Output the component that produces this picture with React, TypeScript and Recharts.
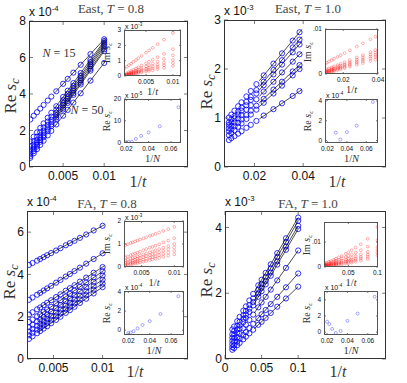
import React from "react";
import { ScatterChart, Scatter, XAxis, YAxis } from "recharts";

const SANS = "'Liberation Sans', Arial, sans-serif";
const SERIF = "'Liberation Serif', 'Times New Roman', serif";

// ---------- East, T = 0.8  (Re s_c in 1e-4, Im s_c in 1e-3, inset Re in 1e-5)
const eastLoInvT = [0.001, 0.00143, 0.00182, 0.00222, 0.00263, 0.00313, 0.00357, 0.00417, 0.005, 0.00556, 0.00625, 0.00714, 0.00833, 0.01];
const eastLoRe = [
  [2.6, 2.81, 3.0, 3.2, 3.4, 3.64, 3.86, 4.15, 4.56, 4.83, 5.17, 5.6, 6.19, 7.0],
  [1.4, 1.66, 1.9, 2.14, 2.39, 2.7, 2.97, 3.33, 3.84, 4.18, 4.6, 5.15, 5.87, 6.9],
  [1.15, 1.42, 1.66, 1.91, 2.17, 2.49, 2.76, 3.14, 3.66, 4.01, 4.45, 5.0, 5.75, 6.8],
  [0.95, 1.22, 1.47, 1.73, 1.99, 2.31, 2.59, 2.98, 3.51, 3.86, 4.31, 4.87, 5.63, 6.7],
  [0.8, 1.08, 1.33, 1.59, 1.85, 2.17, 2.46, 2.84, 3.38, 3.74, 4.18, 4.75, 5.52, 6.6],
  [0.7, 0.97, 1.22, 1.48, 1.74, 2.06, 2.34, 2.72, 3.25, 3.61, 4.05, 4.62, 5.38, 6.45],
  [0.6, 0.87, 1.12, 1.38, 1.64, 1.96, 2.24, 2.62, 3.15, 3.51, 3.95, 4.52, 5.28, 6.35],
  [0.5, 0.75, 0.98, 1.21, 1.44, 1.73, 1.98, 2.33, 2.81, 3.13, 3.53, 4.04, 4.73, 5.7],
];
const eastLoFitX = [0.004, 0.0102];
const eastLoFit = [[4.07, 7.1], [3.23, 7.02], [3.03, 6.93], [2.87, 6.83], [2.73, 6.72], [2.62, 6.58], [2.52, 6.48], [2.23, 5.82]];
const eastLoIm = [
  [0.5, 0.61, 0.71, 0.81, 0.92, 1.04, 1.16, 1.31, 1.52, 1.67, 1.84, 2.07, 2.37, 2.8],
  [0.1, 0.18, 0.25, 0.32, 0.4, 0.49, 0.57, 0.68, 0.83, 0.94, 1.06, 1.23, 1.44, 1.75],
  [0.05, 0.11, 0.17, 0.23, 0.29, 0.36, 0.42, 0.51, 0.63, 0.71, 0.81, 0.94, 1.11, 1.35],
  [0.03, 0.08, 0.12, 0.17, 0.21, 0.27, 0.32, 0.39, 0.48, 0.55, 0.63, 0.73, 0.86, 1.05],
  [0.02, 0.06, 0.1, 0.13, 0.17, 0.22, 0.26, 0.31, 0.39, 0.44, 0.5, 0.59, 0.7, 0.85],
  [0.01, 0.04, 0.07, 0.1, 0.13, 0.16, 0.19, 0.24, 0.29, 0.33, 0.38, 0.45, 0.53, 0.65],
];
const eastLoInvN = [0.02, 0.0222, 0.025, 0.0286, 0.0333, 0.04, 0.05, 0.0667];
const eastLoReN = [0.1, 0.2, 0.2, 1.6, 3.0, 4.6, 7.4, 16.2];

// ---------- East, T = 1.0  (Re s_c in 1e-3, Im s_c in 1e-3, inset Re in 1e-4)
const eastHiInvT = [0.0095, 0.0105, 0.0118, 0.0133, 0.0147, 0.0167, 0.0185, 0.0208, 0.0238, 0.0278, 0.0313, 0.0357, 0.0385];
const eastHiRe = [
  [1.01, 1.07, 1.15, 1.24, 1.32, 1.44, 1.55, 1.69, 1.87, 2.11, 2.32, 2.58, 2.75],
  [0.91, 0.97, 1.04, 1.13, 1.21, 1.33, 1.43, 1.57, 1.74, 1.98, 2.18, 2.44, 2.6],
  [0.86, 0.91, 0.99, 1.07, 1.15, 1.26, 1.37, 1.5, 1.67, 1.89, 2.09, 2.34, 2.5],
  [0.79, 0.84, 0.91, 0.99, 1.06, 1.17, 1.26, 1.38, 1.54, 1.74, 1.93, 2.15, 2.3],
  [0.73, 0.77, 0.83, 0.9, 0.97, 1.06, 1.15, 1.25, 1.39, 1.58, 1.74, 1.95, 2.08],
  [0.65, 0.69, 0.75, 0.82, 0.89, 0.98, 1.07, 1.17, 1.31, 1.5, 1.66, 1.87, 2.0],
  [0.55, 0.59, 0.63, 0.68, 0.73, 0.8, 0.86, 0.94, 1.05, 1.18, 1.3, 1.45, 1.55],
];
const eastHiFitX = [0.022, 0.0395];
const eastHiFit = [[1.76, 2.81], [1.64, 2.66], [1.57, 2.56], [1.44, 2.35], [1.31, 2.13], [1.23, 2.05], [0.98, 1.58]];
const eastHiIm = [
  [2.3, 2.51, 2.78, 3.09, 3.38, 3.79, 4.16, 4.64, 5.26, 6.09, 6.81, 7.72, 8.3],
  [0.9, 1.05, 1.25, 1.48, 1.69, 1.99, 2.27, 2.61, 3.07, 3.68, 4.21, 4.87, 5.3],
  [0.55, 0.69, 0.88, 1.1, 1.3, 1.59, 1.85, 2.19, 2.62, 3.2, 3.71, 4.34, 4.75],
  [0.35, 0.48, 0.66, 0.86, 1.05, 1.32, 1.56, 1.87, 2.27, 2.81, 3.28, 3.87, 4.25],
  [0.2, 0.32, 0.49, 0.67, 0.85, 1.09, 1.32, 1.6, 1.98, 2.47, 2.91, 3.45, 3.8],
  [0.1, 0.21, 0.35, 0.51, 0.66, 0.87, 1.06, 1.31, 1.63, 2.06, 2.43, 2.9, 3.2],
];
const eastHiInvN = [0.0286, 0.0333, 0.04, 0.05, 0.0667];
const eastHiReN = [0.8, 0.1, 0.85, 1.5, 3.9];

// ---------- FA, T = 0.8  (Re s_c in 1e-4, Im s_c in 1e-3, inset Re in 1e-4)
const faLoInvT = [0.0025, 0.00286, 0.00333, 0.00364, 0.004, 0.00435, 0.00476, 0.00526, 0.00571, 0.00625, 0.00667, 0.00714, 0.00769, 0.00833, 0.00909, 0.01];
const faLoRe = [
  [4.45, 4.54, 4.65, 4.73, 4.82, 4.91, 5.01, 5.13, 5.24, 5.38, 5.48, 5.59, 5.73, 5.89, 6.08, 6.3],
  [2.8, 2.91, 3.04, 3.13, 3.24, 3.34, 3.46, 3.61, 3.74, 3.9, 4.02, 4.16, 4.32, 4.51, 4.73, 5.0],
  [2.1, 2.21, 2.35, 2.44, 2.55, 2.66, 2.78, 2.93, 3.06, 3.23, 3.35, 3.49, 3.66, 3.85, 4.08, 4.35],
  [1.75, 1.87, 2.02, 2.11, 2.23, 2.34, 2.47, 2.63, 2.78, 2.95, 3.08, 3.23, 3.41, 3.62, 3.86, 4.15],
  [1.5, 1.62, 1.77, 1.87, 1.99, 2.1, 2.24, 2.4, 2.55, 2.73, 2.86, 3.02, 3.2, 3.4, 3.65, 3.95],
  [1.3, 1.42, 1.57, 1.67, 1.79, 1.9, 2.04, 2.2, 2.35, 2.53, 2.66, 2.82, 3.0, 3.2, 3.45, 3.75],
  [1.12, 1.24, 1.39, 1.49, 1.61, 1.72, 1.86, 2.02, 2.17, 2.35, 2.48, 2.64, 2.82, 3.02, 3.27, 3.57],
  [0.95, 1.07, 1.22, 1.32, 1.44, 1.55, 1.69, 1.85, 2.0, 2.18, 2.31, 2.47, 2.65, 2.85, 3.1, 3.4],
];
const faLoFitX = [0.0035, 0.0102];
const faLoFit = [[4.7, 6.35], [3.09, 5.06], [2.4, 4.41], [2.07, 4.21], [1.83, 4.02], [1.63, 3.82], [1.45, 3.64], [1.28, 3.47]];
const faLoIm = [
  [0.95, 0.99, 1.04, 1.07, 1.11, 1.15, 1.19, 1.24, 1.29, 1.35, 1.39, 1.44, 1.5, 1.57, 1.65, 1.75],
  [0.42, 0.46, 0.51, 0.55, 0.59, 0.62, 0.67, 0.73, 0.78, 0.84, 0.88, 0.93, 0.99, 1.07, 1.15, 1.25],
  [0.28, 0.31, 0.36, 0.39, 0.42, 0.46, 0.5, 0.54, 0.59, 0.64, 0.68, 0.73, 0.78, 0.84, 0.91, 1.0],
  [0.18, 0.21, 0.25, 0.28, 0.31, 0.35, 0.38, 0.43, 0.47, 0.52, 0.55, 0.59, 0.64, 0.7, 0.77, 0.85],
  [0.1, 0.13, 0.17, 0.19, 0.22, 0.25, 0.28, 0.32, 0.36, 0.4, 0.43, 0.47, 0.52, 0.57, 0.63, 0.7],
  [0.05, 0.07, 0.11, 0.13, 0.15, 0.17, 0.2, 0.23, 0.26, 0.3, 0.33, 0.36, 0.4, 0.44, 0.49, 0.55],
];
const faLoInvN = [0.02, 0.0222, 0.025, 0.0286, 0.0333, 0.04, 0.05, 0.0667];
const faLoReN = [-0.3, -0.25, -0.1, 0.2, 0.55, 0.95, 1.7, 3.55];

// ---------- FA, T = 1.0  (Re s_c in 1e-3, Im s_c in 1e-3, inset Re in 1e-4)
const faHiInvT = [0.01, 0.0125, 0.0167, 0.02, 0.025, 0.0286, 0.0333, 0.0385, 0.0455, 0.05, 0.0556, 0.0625, 0.0714, 0.0833, 0.1];
const faHiRe = [
  [0.9, 0.99, 1.15, 1.28, 1.47, 1.6, 1.78, 1.98, 2.24, 2.41, 2.62, 2.88, 3.22, 3.67, 4.3],
  [0.75, 0.85, 1.01, 1.13, 1.33, 1.46, 1.64, 1.84, 2.11, 2.28, 2.5, 2.76, 3.1, 3.56, 4.2],
  [0.65, 0.74, 0.9, 1.03, 1.22, 1.35, 1.53, 1.73, 1.99, 2.16, 2.37, 2.63, 2.97, 3.42, 4.05],
  [0.55, 0.64, 0.8, 0.93, 1.12, 1.25, 1.43, 1.63, 1.89, 2.06, 2.27, 2.53, 2.87, 3.32, 3.95],
  [0.45, 0.53, 0.66, 0.77, 0.93, 1.04, 1.19, 1.35, 1.57, 1.72, 1.89, 2.11, 2.39, 2.77, 3.3],
  [0.36, 0.42, 0.53, 0.61, 0.73, 0.82, 0.94, 1.07, 1.24, 1.36, 1.49, 1.67, 1.89, 2.18, 2.6],
  [0.28, 0.33, 0.42, 0.49, 0.6, 0.68, 0.78, 0.89, 1.04, 1.13, 1.25, 1.4, 1.59, 1.84, 2.2],
];
const faHiFitX = [0.04, 0.1];
const faHiFit = [[2.03, 4.3], [1.9, 4.2], [1.78, 4.05], [1.68, 3.95], [1.4, 3.3], [1.11, 2.6], [0.92, 2.2]];
const faHiIm = [
  [1.5, 1.7, 2.1, 2.4, 2.9, 3.3, 3.8, 4.4, 5.3, 5.9, 6.7, 7.7, 9.1, 11.3, 16.0],
  [1.0, 1.2, 1.5, 1.8, 2.2, 2.5, 2.9, 3.4, 4.0, 4.4, 5.0, 5.7, 6.7, 8.2, 10.7],
  [0.7, 0.85, 1.1, 1.3, 1.6, 1.85, 2.15, 2.5, 3.0, 3.3, 3.7, 4.3, 5.0, 6.1, 8.0],
  [0.5, 0.6, 0.8, 0.95, 1.2, 1.4, 1.65, 1.95, 2.35, 2.6, 2.95, 3.4, 4.0, 4.9, 6.8],
  [0.3, 0.4, 0.55, 0.7, 0.9, 1.05, 1.25, 1.5, 1.85, 2.05, 2.35, 2.75, 3.3, 4.1, 5.7],
  [0.15, 0.22, 0.35, 0.45, 0.6, 0.72, 0.88, 1.08, 1.35, 1.52, 1.75, 2.08, 2.55, 3.2, 4.7],
];
const faHiInvN = [0.02, 0.0222, 0.025, 0.0286, 0.0333, 0.04, 0.05, 0.0667];
const faHiReN = [1.3, 1.0, 0.4, -0.1, 0.15, 1.4, 2.3, 4.4];

type Ax = { domain: [number, number]; ticks: number[]; fmt?: (v: number) => string };
const pts = (xs: number[], ys: number[]) => xs.map((x, i) => ({ x, y: ys[i] }));
const ring = (r: number, color: string, sw: number, op = 1) => (p: any) =>
  p.cx == null ? <g /> : <circle cx={p.cx} cy={p.cy} r={r} fill="none" stroke={color} strokeWidth={sw} strokeOpacity={op} />;
const noDot = () => <g />;
const blueRing = ring(2.6, "#0000ff", 0.8);
const redRing = ring(1.4, "#ff0000", 0.6, 0.5);
const lightRing = ring(1.5, "#3333ff", 0.6, 0.7);
const dot01 = (v: number) => (v === 0 ? "0" : ".01");

function Plot({ box, x, y, fs, tl, inset, children }: {
  box: number[]; x: Ax; y: Ax; fs: number; tl: number; inset?: boolean; children: React.ReactNode;
}) {
  const [l, t, r, b] = box;
  const w = r - l, h = b - t;
  const yw = inset ? 22 : 40, xh = inset ? 12 : 22, mt = 8, mr = inset ? 12 : 24, m = inset ? 2 : 3;
  const fx = x.fmt ?? String, fy = y.fmt ?? String;
  const col = "#444";
  const XT = (p: any) => (
    <g>
      <line x1={p.x} x2={p.x} y1={p.y - m} y2={p.y - m - tl} stroke={col} strokeWidth={0.7} />
      <line x1={p.x} x2={p.x} y1={p.y - m - h} y2={p.y - m - h + tl} stroke={col} strokeWidth={0.7} />
      <text x={p.x} y={p.y} dy={inset ? "0.95em" : "0.8em"} textAnchor="middle" fontSize={fs} fontFamily={SANS} fill="#111">{fx(p.payload.value)}</text>
    </g>
  );
  const YT = (p: any) => (
    <g>
      <line x1={p.x + m} x2={p.x + m + tl} y1={p.y} y2={p.y} stroke={col} strokeWidth={0.7} />
      <line x1={p.x + m + w} x2={p.x + m + w - tl} y1={p.y} y2={p.y} stroke={col} strokeWidth={0.7} />
      <text x={p.x - (inset ? 1 : 0)} y={p.y} dy="0.35em" textAnchor="end" fontSize={fs} fontFamily={SANS} fill="#111">{fy(p.payload.value)}</text>
    </g>
  );
  return (
    <div style={{ position: "absolute", left: l - yw, top: t - mt }}>
      {inset && <div style={{ position: "absolute", left: yw, top: mt, width: w, height: h, background: "#fff" }} />}
      <ScatterChart width={yw + w + mr} height={mt + h + xh} margin={{ top: mt, right: mr, bottom: 0, left: 0 }}>
        <XAxis type="number" dataKey="x" domain={x.domain} ticks={x.ticks} allowDataOverflow axisLine={false} tickLine={false} tickSize={0} tickMargin={m} height={xh} tick={XT} interval={0} />
        <YAxis type="number" dataKey="y" domain={y.domain} ticks={y.ticks} allowDataOverflow axisLine={false} tickLine={false} tickSize={0} tickMargin={m} width={yw} tick={YT} interval={0} />
        {children}
      </ScatterChart>
      <div style={{ position: "absolute", left: yw, top: mt, width: w, height: h, boxSizing: "border-box", border: `1px solid ${inset ? "#555" : "#333"}`, pointerEvents: "none" }} />
    </div>
  );
}

const Lbl = ({ x, y, size, rot = 0, font = SERIF, color = "#222", children }: any) => (
  <div style={{ position: "absolute", left: x, top: y, transform: `translate(-50%,-50%) rotate(${rot}deg)`, fontFamily: font, fontSize: size, fontWeight: 400, whiteSpace: "nowrap", color, lineHeight: 1 }}>
    {children}
  </div>
);
const Exp = ({ x, y, size, e }: any) => (
  <div style={{ position: "absolute", left: x, top: y, fontFamily: SANS, fontSize: size, whiteSpace: "nowrap", color: "#111", lineHeight: 1 }}>
    x 10<span style={{ fontSize: "0.65em", verticalAlign: "0.6em" }}>{e}</span>
  </div>
);
const ReS = () => (<span>Re <i>s</i><i style={{ fontSize: "0.7em", verticalAlign: "-0.2em" }}>c</i></span>);
const ImS = () => (<span>Im <i>s</i><i style={{ fontSize: "0.7em", verticalAlign: "-0.2em" }}>c</i></span>);

function Panel({ main, xs, re, fitX, fit, ia, imX, im, ib, invN, reN, title, reLbl, tLbl, mainExp }: any) {
  const [al, at, ar, ab] = ia.box;
  const [bl, bt, br, bb] = ib.box;
  return (
    <>
      <Plot box={main.box} x={main.x} y={main.y} fs={12} tl={4}>
        {re.map((ys: number[], i: number) => (
          <Scatter key={"s" + i} data={pts(xs, ys)} shape={blueRing} isAnimationActive={false} />
        ))}
        {fit.map((f: number[], i: number) => (
          <Scatter key={"f" + i} data={pts(fitX, f)} fill="#000" line={{ stroke: "#000", strokeWidth: 0.7 }} shape={noDot} isAnimationActive={false} />
        ))}
      </Plot>
      <Exp x={main.box[0]} y={main.box[1] - 16} size={12} e={mainExp} />
      <Lbl x={title[0]} y={title[1]} size={13} color="#444">{title[2]}</Lbl>
      <Lbl x={reLbl[0]} y={reLbl[1]} size={17} rot={-90} color="#333"><ReS /></Lbl>
      <Lbl x={tLbl[0]} y={tLbl[1]} size={16} color="#333">1/<i>t</i></Lbl>

      <Plot box={ia.box} x={ia.x} y={ia.y} fs={6.5} tl={2} inset>
        {im.map((ys: number[], i: number) => (
          <Scatter key={"i" + i} data={pts(imX, ys)} shape={redRing} isAnimationActive={false} />
        ))}
      </Plot>
      {ia.exp && <Exp x={al + 1} y={at - 7} size={7} e={ia.exp} />}
      <Lbl x={al - 16} y={(at + ab) / 2} size={10} rot={-90} color="#333"><ImS /></Lbl>
      <Lbl x={(al + ar) / 2} y={ab + 16} size={10.5} color="#333">1/<i>t</i></Lbl>

      <Plot box={ib.box} x={ib.x} y={ib.y} fs={6.5} tl={2} inset>
        <Scatter data={pts(invN, reN)} shape={lightRing} isAnimationActive={false} />
      </Plot>
      <Exp x={bl + 1} y={bt - 7} size={7} e={ib.exp} />
      <Lbl x={bl - 16} y={(bt + bb) / 2} size={10} rot={-90} color="#333"><ReS /></Lbl>
      <Lbl x={(bl + br) / 2} y={bb + 16} size={10.5} color="#333">1/<i>N</i></Lbl>
    </>
  );
}

const nTicks = [0.02, 0.04, 0.06];

export default function App() {
  return (
    <div style={{ position: "absolute", left: 0, top: 0, width: 407, height: 383, background: "#fff", overflow: "hidden" }}>
      <Panel
        main={{ box: [29, 21, 188, 167], x: { domain: [0.00085, 0.0202], ticks: [0.005, 0.01] }, y: { domain: [0, 8], ticks: [0, 2, 4, 6, 8] } }}
        xs={eastLoInvT} re={eastLoRe} fitX={eastLoFitX} fit={eastLoFit}
        ia={{ box: [124, 30, 181, 76], x: { domain: [0.0009, 0.0115], ticks: [0.005, 0.01] }, y: { domain: [0, 3], ticks: [0, 1, 2, 3] }, exp: "-3" }}
        imX={eastLoInvT} im={eastLoIm}
        ib={{ box: [124, 99, 181, 143], x: { domain: [0.018, 0.069], ticks: nTicks }, y: { domain: [-0.3, 20], ticks: [0, 10, 20] }, exp: "-5" }}
        invN={eastLoInvN} reN={eastLoReN}
        title={[111, 8, <>East, <i>T</i> = 0.8</>]} reLbl={[12, 96]} tLbl={[138, 182]} mainExp="-4"
      />
      <Lbl x={59} y={53} size={12} color="#333"><i>N</i> = 15</Lbl>
      <Lbl x={87} y={110} size={12} color="#333"><i>N</i> = 50</Lbl>

      <Panel
        main={{ box: [224, 20, 386, 167], x: { domain: [0.0075, 0.074], ticks: [0.02, 0.04] }, y: { domain: [0, 3], ticks: [0, 1, 2, 3] } }}
        xs={eastHiInvT} re={eastHiRe} fitX={eastHiFitX} fit={eastHiFit}
        ia={{ box: [325, 29, 378, 74], x: { domain: [0.0095, 0.04], ticks: [0.02, 0.04] }, y: { domain: [0, 10], ticks: [0, 10], fmt: dot01 } }}
        imX={eastHiInvT} im={eastHiIm}
        ib={{ box: [325, 99, 378, 143], x: { domain: [0.0175, 0.072], ticks: nTicks }, y: { domain: [-0.25, 4.2], ticks: [0, 2, 4] }, exp: "-4" }}
        invN={eastHiInvN} reN={eastHiReN}
        title={[308, 8, <>East, <i>T</i> = 1.0</>]} reLbl={[208, 92]} tLbl={[337, 182]} mainExp="-3"
      />

      <Panel
        main={{ box: [27, 211, 188, 359], x: { domain: [0.0023, 0.0187], ticks: [0.005, 0.01] }, y: { domain: [0, 7], ticks: [0, 2, 4, 6] } }}
        xs={faLoInvT} re={faLoRe} fitX={faLoFitX} fit={faLoFit}
        ia={{ box: [124, 221, 184, 267], x: { domain: [0.0023, 0.0115], ticks: [0.005, 0.01] }, y: { domain: [0, 2], ticks: [0, 1, 2] }, exp: "-3" }}
        imX={faLoInvT} im={faLoIm}
        ib={{ box: [124, 291, 184, 335], x: { domain: [0.016, 0.072], ticks: nTicks }, y: { domain: [-0.5, 4.1], ticks: [0, 2, 4] }, exp: "-4" }}
        invN={faLoInvN} reN={faLoReN}
        title={[107, 203, <>FA, <i>T</i> = 0.8</>]} reLbl={[11, 282]} tLbl={[135, 372]} mainExp="-4"
      />

      <Panel
        main={{ box: [225, 211, 386, 359], x: { domain: [0, 0.22], ticks: [0, 0.05, 0.1] }, y: { domain: [0, 4.5], ticks: [0, 2, 4] } }}
        xs={faHiInvT} re={faHiRe} fitX={faHiFitX} fit={faHiFit}
        ia={{ box: [324, 222, 378, 267], x: { domain: [0.008, 0.101], ticks: [0.05, 0.1] }, y: { domain: [0, 18], ticks: [0, 10], fmt: dot01 } }}
        imX={faHiInvT} im={faHiIm}
        ib={{ box: [324, 291, 378, 335], x: { domain: [0.017, 0.07], ticks: nTicks }, y: { domain: [-0.35, 5.1], ticks: [0, 2, 4] }, exp: "-4" }}
        invN={faHiInvN} reN={faHiReN}
        title={[308, 203, <>FA, <i>T</i> = 1.0</>]} reLbl={[208, 280]} tLbl={[338, 372]} mainExp="-3"
      />
    </div>
  );
}
